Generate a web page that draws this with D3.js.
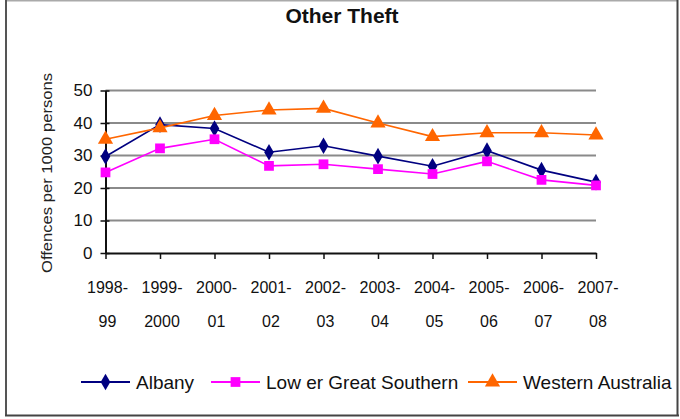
<!DOCTYPE html>
<html>
<head>
<meta charset="utf-8">
<script src="https://cdn.jsdelivr.net/npm/d3@7"></script>
<style>
  body { margin: 0; background: #fff; }
  svg { display: block; font-family: "Liberation Sans", Arial, sans-serif; }
</style>
</head>
<body>
<svg id="chart" width="680" height="419"></svg>
<script>
const categories = ['1998-99', '1999-2000', '2000-01', '2001-02', '2002-03',
  '2003-04', '2004-05', '2005-06', '2006-07', '2007-08'];
const albany = [29.7, 39.5, 38.3, 31, 33, 29.8, 26.7, 31.5, 25.5, 21.8];
const lowerGreatSouthern = [24.8, 32.2, 35, 26.8, 27.3, 25.8, 24.3, 28.2, 22.5, 20.8];
const westernAustralia = [35, 38.5, 42.3, 44, 44.5, 40, 35.8, 37, 37, 36.3];
const yTicks = [0, 10, 20, 30, 40, 50];

const series = [
  { name: 'Albany', values: albany, color: '#000080', symbol: d3.symbolDiamond, size: 80 },
  { name: 'Low er Great Southern', values: lowerGreatSouthern, color: '#ff00ff', symbol: d3.symbolSquare, size: 95 },
  { name: 'Western Australia', values: westernAustralia, color: '#ff6600', symbol: d3.symbolTriangle, size: 100 },
];

const svg = d3.select('#chart');

const clip = svg.append('defs').append('clipPath').attr('id', 'frame');
clip.append('rect').attr('x', 0).attr('y', 0).attr('width', 676).attr('height', 419);

const root = svg.append('g').attr('clip-path', 'url(#frame)');

const x = d3.scalePoint().domain(categories).range([105.5, 596]);
const y = d3.scaleLinear().domain([0, 50]).range([253, 90.5]);

// title
root.append('text')
  .attr('x', 342)
  .attr('y', 23)
  .attr('text-anchor', 'middle')
  .attr('font-size', 21)
  .attr('font-weight', 'bold')
  .attr('fill', '#111')
  .text('Other Theft');

// gridlines
root.append('g')
  .selectAll('line')
  .data(yTicks.filter((t) => t > 0))
  .join('line')
  .attr('x1', x.range()[0])
  .attr('x2', x.range()[1])
  .attr('y1', (d) => y(d))
  .attr('y2', (d) => y(d))
  .attr('stroke', '#8a8a8a')
  .attr('stroke-width', 2);

// y axis
const yAxis = root.append('g')
  .attr('transform', `translate(${x.range()[0]},0)`)
  .call(d3.axisLeft(y).tickValues(yTicks).tickSizeInner(5).tickSizeOuter(0).tickPadding(8));
yAxis.select('.domain').attr('stroke', '#111').attr('stroke-width', 2);
yAxis.selectAll('.tick line').attr('stroke', '#111').attr('stroke-width', 1.5).attr('x2', 4).attr('x1', -5);
yAxis.selectAll('.tick text').attr('font-size', 17).attr('fill', '#111')
  .attr('font-family', '"Liberation Sans", Arial, sans-serif');

// x axis
const xAxis = root.append('g')
  .attr('transform', `translate(0,${y(0)})`)
  .call(d3.axisBottom(x).tickSizeInner(6).tickSizeOuter(0).tickFormat(() => ''));
xAxis.select('.domain').attr('stroke', '#111').attr('stroke-width', 2);
xAxis.selectAll('.tick line').attr('stroke', '#111').attr('stroke-width', 1.5);
xAxis.selectAll('.tick text').remove();

const xLabels = root.append('g')
  .selectAll('text')
  .data(categories)
  .join('text')
  .attr('text-anchor', 'middle')
  .attr('font-size', 16)
  .attr('fill', '#111');
xLabels.append('tspan')
  .attr('x', (d) => x(d) + 2)
  .attr('y', 293)
  .text((d) => d.split('-')[0] + '-');
xLabels.append('tspan')
  .attr('x', (d) => x(d) + 2)
  .attr('y', 327)
  .text((d) => d.split('-')[1]);

// y axis title
root.append('text')
  .attr('transform', 'translate(52,173) rotate(-90)')
  .attr('text-anchor', 'middle')
  .attr('font-size', 14)
  .attr('textLength', 200)
  .attr('lengthAdjust', 'spacingAndGlyphs')
  .attr('fill', '#222')
  .text('Offences per 1000 persons');

// lines and markers
const line = d3.line().x((d, i) => x(categories[i])).y((d) => y(d));

series.forEach((s) => {
  root.append('path')
    .datum(s.values)
    .attr('d', line)
    .attr('fill', 'none')
    .attr('stroke', s.color)
    .attr('stroke-width', 1.6);
  root.append('g')
    .selectAll('path')
    .data(s.values)
    .join('path')
    .attr('transform', (d, i) => `translate(${x(categories[i])},${y(d)})`)
    .attr('d', d3.symbol().type(s.symbol).size(s.size))
    .attr('fill', s.color);
});

// legend
const legendItems = [
  { lineX: 81, textX: 136 },
  { lineX: 211, textX: 266 },
  { lineX: 468, textX: 523 },
];
const legend = root.append('g');
series.forEach((s, i) => {
  const pos = legendItems[i];
  const g = legend.append('g').attr('transform', `translate(${pos.lineX},382)`);
  g.append('line')
    .attr('x1', 0).attr('x2', 49)
    .attr('stroke', s.color).attr('stroke-width', 1.8);
  g.append('path')
    .attr('transform', 'translate(24.5,0)')
    .attr('d', d3.symbol().type(s.symbol).size(s.size))
    .attr('fill', s.color);
  legend.append('text')
    .attr('x', pos.textX)
    .attr('y', 389)
    .attr('font-size', 19)
    .attr('fill', '#111')
    .text(s.name);
});

// chart frame
const frame = svg.append('g').attr('fill', 'none');
frame.append('line').attr('x1', 5).attr('x2', 678).attr('y1', 0.75).attr('y2', 0.75)
  .attr('stroke', '#aaa').attr('stroke-width', 1.5);
frame.append('line').attr('x1', 6).attr('x2', 6).attr('y1', 0).attr('y2', 416)
  .attr('stroke', '#555').attr('stroke-width', 2);
frame.append('line').attr('x1', 5).attr('x2', 679).attr('y1', 415.5).attr('y2', 415.5)
  .attr('stroke', '#444').attr('stroke-width', 2);
frame.append('line').attr('x1', 677.5).attr('x2', 677.5).attr('y1', 0).attr('y2', 416)
  .attr('stroke', '#444').attr('stroke-width', 2);
</script>
</body>
</html>
